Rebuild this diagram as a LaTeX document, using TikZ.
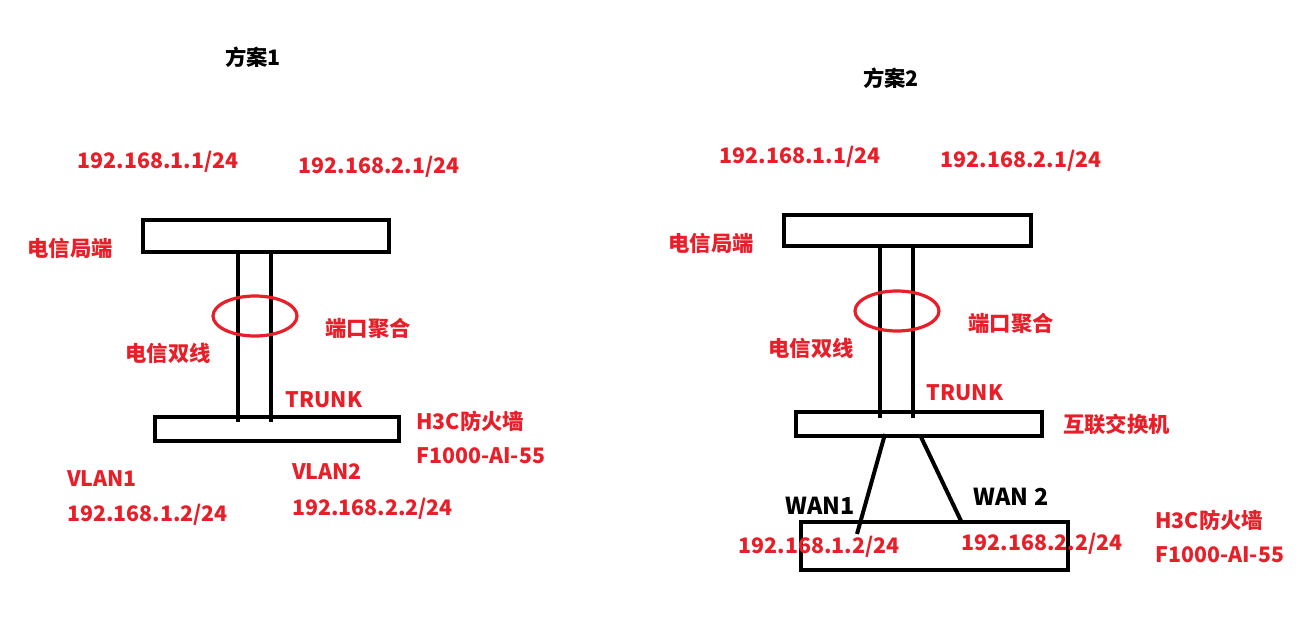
\documentclass[tikz,border=0pt]{standalone}
\usepackage{fontspec}
\usetikzlibrary{shapes.geometric}
\setmainfont{Noto Sans CJK SC}
\definecolor{lbl}{RGB}{232,30,40}
\begin{document}
\begin{tikzpicture}[x=0.75pt,y=-0.75pt,
  box/.style={draw=black,line width=3pt,inner sep=0pt,fill=none},
  wire/.style={draw=black,line width=3pt},
  ring/.style={draw=lbl,line width=2.4pt},
  rt/.style={text=lbl,font=\fontsize{16}{18}\selectfont\bfseries,inner sep=0pt},
  bt/.style={text=black,font=\fontsize{16}{18}\selectfont\bfseries,inner sep=0pt},
  wt/.style={text=black,font=\fontsize{17.5}{20}\selectfont\bfseries,inner sep=0pt}]
\useasboundingbox (0,0) rectangle (1311,628);
\fill[white] (0,0) rectangle (1311,628);
% ---------- Plan 1 ----------
\node[bt] (t1) at (253,57) {方案1};
\node[rt] (a11) at (158,162) {192.168.1.1/24};
\node[rt] (a21) at (379,167) {192.168.2.1/24};
\node[box,minimum width={246*0.75pt},minimum height={32*0.75pt}] (top1) at (266,236) {};
\node[rt] (co1) at (70,248) {电信局端};
\coordinate (p1a) at (238,252); \coordinate (p1b) at (238,422);
\coordinate (p1c) at (271,252); \coordinate (p1d) at (271,422);
\draw[wire] (p1a) -- (p1b);
\draw[wire] (p1c) -- (p1d);
\node[ring,ellipse,minimum width={84*0.75pt},minimum height={40*0.75pt},inner sep=0pt] (e1) at (255,316) {};
\node[rt] (agg1) at (368,328) {端口聚合};
\node[rt] (dual1) at (168,353) {电信双线};
\node[rt] (tr1) at (324,400) {TRUNK};
\node[box,minimum width={244*0.75pt},minimum height={24*0.75pt}] (bot1) at (277,429) {};
\node[rt,anchor=west] (fw1) at (416,421) {H3C防火墙};
\node[rt,anchor=west] (fm1) at (416,456) {F1000-AI-55};
\node[rt,anchor=west] (v1) at (67,479) {VLAN1};
\node[rt,anchor=west] (v1a) at (67,515) {192.168.1.2/24};
\node[rt,anchor=west] (v2) at (292,472) {VLAN2};
\node[rt,anchor=west] (v2a) at (292,509) {192.168.2.2/24};
% ---------- Plan 2 ----------
\node[bt] (t2) at (891,78) {方案2};
\node[rt] (a12) at (800,157) {192.168.1.1/24};
\node[rt] (a22) at (1021,161) {192.168.2.1/24};
\node[box,minimum width={247*0.75pt},minimum height={31*0.75pt}] (top2) at (907.5,230.5) {};
\node[rt] (co2) at (711,243) {电信局端};
\coordinate (p2a) at (880,246); \coordinate (p2b) at (880,418);
\coordinate (p2c) at (913,246); \coordinate (p2d) at (913,418);
\draw[wire] (p2a) -- (p2b);
\draw[wire] (p2c) -- (p2d);
\node[ring,ellipse,minimum width={84*0.75pt},minimum height={40*0.75pt},inner sep=0pt] (e2) at (897,311) {};
\node[rt] (agg2) at (1011,323) {端口聚合};
\node[rt] (dual2) at (811,348) {电信双线};
\node[rt] (tr2) at (965,393) {TRUNK};
\node[box,minimum width={246*0.75pt},minimum height={24*0.75pt}] (sw) at (919,424) {};
\node[rt,anchor=west] (swl) at (1063,424) {互联交换机};
\coordinate (w1a) at (885,434); \coordinate (w1b) at (857,534);
\coordinate (w2a) at (921,437); \coordinate (w2b) at (962,523);
\draw[wire] (w1a) -- (w1b);
\draw[wire] (w2a) -- (w2b);
\node[wt] (wan1) at (820,506) {WAN1};
\node[wt] (wan2) at (1011,497) {WAN 2};
\node[box,minimum width={267*0.75pt},minimum height={48*0.75pt}] (fw) at (934.5,546) {};
\node[rt] (ip1) at (819,547) {192.168.1.2/24};
\node[rt] (ip2) at (1042,544) {192.168.2.2/24};
\node[rt,anchor=west] (fw2) at (1155,520) {H3C防火墙};
\node[rt,anchor=west] (fm2) at (1155,555) {F1000-AI-55};
\end{tikzpicture}
\end{document}
